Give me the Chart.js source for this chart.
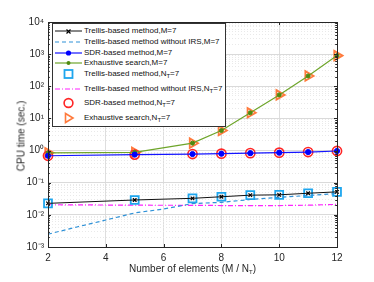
<!DOCTYPE html>
<html><head><meta charset="utf-8">
<script src="https://cdn.jsdelivr.net/npm/chart.js@4/dist/chart.umd.min.js"></script>
<style>
html,body{margin:0;padding:0;background:#fff;}
#wrap{position:relative;width:374px;height:282px;font-family:"Liberation Sans",Arial,sans-serif;color:#262626;overflow:hidden;}
#c{position:absolute;left:0;top:0;}
#legend{position:absolute;left:52px;top:23px;width:172px;height:102px;border:1px solid #333;background:#fff;font-size:8px;color:#111;}
.row{position:absolute;left:0;width:172px;height:12px;line-height:12px;white-space:nowrap;}
.row svg{position:absolute;left:2px;top:0;}
.row span{position:absolute;left:31px;top:0;}
sub{font-size:6px;vertical-align:-2px;line-height:0;}
#xt{position:absolute;left:48px;width:289px;top:263px;text-align:center;font-size:10px;}
#yt{position:absolute;left:21px;top:136px;font-size:10px;white-space:nowrap;transform:translate(-50%,-50%) rotate(-90deg);}
</style></head>
<body>
<div id="wrap">
<canvas id="c" width="374" height="282"></canvas>
<div id="legend"></div>
<div id="xt">Number of elements (M / N<sub>T</sub>)</div>
<div id="yt">CPU time (sec.)</div>
</div>
<script>
// ---- data ----
const xVals = [2, 5, 7, 8, 9, 10, 11, 12];
const xDense = [2, 3, 4, 5, 6, 7, 8, 9, 10, 11, 12];
const trellisM = [0.0228, 0.029, 0.0327, 0.0366, 0.041, 0.042, 0.047, 0.052];
const trellisNoIrsM = [0.0025, 0.0042, 0.0069, 0.0115, 0.0152, 0.0225, 0.0245, 0.030, 0.035, 0.040, 0.046];
const sdrM = [0.69, 0.75, 0.78, 0.80, 0.83, 0.86, 0.90, 0.97];
const exhaustiveM = [0.85, 0.88, 1.7, 4.2, 15, 54, 210, 900];
const trellisNT = [0.0228, 0.029, 0.0327, 0.0366, 0.041, 0.042, 0.047, 0.052];
const trellisNoIrsNT = [0.0207, 0.0200, 0.0198, 0.0195, 0.0193, 0.0195, 0.0200, 0.0212];
const sdrNT = [0.69, 0.75, 0.78, 0.80, 0.83, 0.86, 0.90, 0.97];
const exhaustiveNT = [0.85, 0.88, 1.7, 4.2, 15, 54, 210, 900];
const xTickLabels = ['2', '4', '6', '8', '10', '12'];
const yTickLabels = ['10\u207B\u00B3', '10\u207B\u00B2', '10\u207B\u00B9', '10\u2070', '10\u00B9', '10\u00B2', '10\u00B3', '10\u2074'];
const legendLabels = [
  'Trellis-based method,M=7',
  'Trellis-based method without IRS,M=7',
  'SDR-based method,M=7',
  'Exhaustive search,M=7',
  'Trellis-based method,N<sub>T</sub>=7',
  'Trellis-based method without IRS,N<sub>T</sub>=7',
  'SDR-based method,N<sub>T</sub>=7',
  'Exhaustive search,N<sub>T</sub>=7'
];

const pts = (xs, ys) => xs.map((x, i) => ({x: x, y: ys[i]}));
const C = {black:'#111111', cyan:'#2f92d8', blue:'#1414ff', green:'#6ea52a', sq:'#1ea6ee', mag:'#ff22ff', red:'#ff2626', orange:'#ff7a3c'};

const datasets = [
  {data: pts(xVals, trellisM), borderColor: C.black, borderWidth: 1, pointStyle: 'crossRot', pointRadius: 2.5, pointBorderColor: '#000', pointBorderWidth: 1.2},
  {data: pts(xDense, trellisNoIrsM), borderColor: C.cyan, borderWidth: 1.2, borderDash: [4, 3], pointRadius: 0},
  {data: pts(xVals, sdrM), borderColor: C.blue, borderWidth: 1.2, pointStyle: 'circle', pointRadius: 2.6, pointBackgroundColor: '#0000ff', pointBorderColor: '#0000ff', pointBorderWidth: 1},
  {data: pts(xVals, exhaustiveM), borderColor: C.green, borderWidth: 1.2, pointStyle: 'circle', pointRadius: 2, pointBackgroundColor: '#4f8a10', pointBorderColor: '#4f8a10', pointBorderWidth: 1},
  {data: pts(xVals, trellisNT), showLine: false, pointStyle: 'rect', pointRadius: 5.6, pointBorderColor: C.sq, pointBackgroundColor: 'rgba(0,0,0,0)', pointBorderWidth: 1.8},
  {data: pts(xVals, trellisNoIrsNT), borderColor: C.mag, borderWidth: 1.2, borderDash: [5, 2, 1, 2], pointRadius: 0},
  {data: pts(xVals, sdrNT), showLine: false, pointStyle: 'circle', pointRadius: 4.6, pointBorderColor: C.red, pointBackgroundColor: 'rgba(0,0,0,0)', pointBorderWidth: 1.6},
  {data: pts(xVals, exhaustiveNT), showLine: false, pointStyle: 'triangle', pointRotation: 90, pointRadius: 5.5, pointBorderColor: C.orange, pointBackgroundColor: 'rgba(0,0,0,0)', pointBorderWidth: 1.8}
];
datasets.forEach(d => { d.clip = false; d.tension = 0; d.fill = false; if (d.borderColor === undefined) d.borderColor = 'rgba(0,0,0,0)'; });

const isPow10 = v => Math.abs(Math.log10(v) - Math.round(Math.log10(v))) < 1e-6;

const boxPlugin = {
  id: 'box',
  afterDraw(chart) {
    const {ctx, chartArea: a, scales} = chart;
    ctx.save();
    ctx.strokeStyle = '#262626';
    ctx.lineWidth = 1;
    ctx.beginPath();
    // inward tick marks
    scales.x.ticks.forEach(t => {
      const px = Math.round(scales.x.getPixelForValue(t.value)) + 0.5;
      ctx.moveTo(px, a.bottom); ctx.lineTo(px, a.bottom - 3);
      ctx.moveTo(px, a.top); ctx.lineTo(px, a.top + 3);
    });
    scales.y.ticks.forEach(t => {
      const py = Math.round(scales.y.getPixelForValue(t.value)) + 0.5;
      const len = isPow10(t.value) ? 3 : 1.8;
      ctx.moveTo(a.left, py); ctx.lineTo(a.left + len, py);
      ctx.moveTo(a.right, py); ctx.lineTo(a.right - len, py);
    });
    ctx.stroke();
    ctx.strokeRect(Math.round(a.left) + 0.5, Math.round(a.top) + 0.5, Math.round(a.right - a.left), Math.round(a.bottom - a.top));
    ctx.restore();
  }
};

new Chart(document.getElementById('c'), {
  type: 'line',
  data: {datasets: datasets},
  options: {
    responsive: false, animation: false, devicePixelRatio: 1,
    layout: {padding: {left: 0, right: 37, top: 22, bottom: 0}},
    plugins: {legend: {display: false}, tooltip: {enabled: false}},
    scales: {
      x: {
        type: 'linear', min: 2, max: 12,
        afterFit(s) { s.height = 35; },
        ticks: {stepSize: 2, color: '#262626', font: {family: 'Liberation Sans', size: 10}, padding: 5,
          callback: (v) => { const i = xTickLabels.indexOf(String(v)); return i >= 0 ? xTickLabels[i] : ''; }},
        grid: {color: '#dedede', drawTicks: false, lineWidth: 1},
        border: {color: '#262626', width: 1}
      },
      y: {
        type: 'logarithmic', min: 0.001, max: 10000,
        afterFit(s) { s.width = 48; },
        afterBuildTicks(s) {
          const t = [];
          for (let e = -3; e <= 4; e++) {
            for (let n = 1; n <= 9; n++) {
              if (e === 4 && n > 1) break;
              t.push({value: parseFloat(n + 'e' + e)});
            }
          }
          s.ticks = t;
        },
        ticks: {autoSkip: false, color: '#262626', font: {family: 'Liberation Sans', size: 10}, padding: 4,
          callback: (v) => isPow10(v) ? yTickLabels[Math.round(Math.log10(v)) + 3] : ''},
        grid: {drawTicks: false, lineWidth: 1,
          color: (c) => (c.tick && isPow10(c.tick.value)) ? '#dadada' : '#e9e9e9'},
        border: {color: '#262626', width: 1,
          dash: (c) => (c.tick && !isPow10(c.tick.value)) ? [1, 2] : []}
      }
    }
  },
  plugins: [boxPlugin]
});

// ---- legend (HTML, real text) ----
const swatches = [
  `<line x1="0" y1="6" x2="27" y2="6" stroke="${C.black}" stroke-width="1"/><path d="M11.5 4.5 L15.5 8.5 M15.5 4.5 L11.5 8.5" stroke="#000" stroke-width="1.2"/>`,
  `<line x1="0" y1="6" x2="27" y2="6" stroke="${C.cyan}" stroke-width="1.2" stroke-dasharray="4 3"/>`,
  `<line x1="0" y1="6" x2="27" y2="6" stroke="${C.blue}" stroke-width="1.2"/><circle cx="13.5" cy="6" r="2.6" fill="#0000ff"/>`,
  `<line x1="0" y1="6" x2="27" y2="6" stroke="${C.green}" stroke-width="1.2"/><circle cx="13.5" cy="6" r="2" fill="#4f8a10"/>`,
  `<rect x="9.5" y="2" width="8" height="8" fill="none" stroke="${C.sq}" stroke-width="1.8"/>`,
  `<line x1="0" y1="6" x2="27" y2="6" stroke="${C.mag}" stroke-width="1.2" stroke-dasharray="5 2 1 2"/>`,
  `<circle cx="13.5" cy="6" r="4.4" fill="none" stroke="${C.red}" stroke-width="1.6"/>`,
  `<path d="M10.5 1.5 L18 6 L10.5 10.5 Z" fill="none" stroke="${C.orange}" stroke-width="1.6" stroke-linejoin="miter"/>`
];
const rowCenters = [7, 18, 29, 39, 50, 65, 79, 94];
const lg = document.getElementById('legend');
legendLabels.forEach((lab, i) => {
  const r = document.createElement('div');
  r.className = 'row';
  r.style.top = (rowCenters[i] - 6) + 'px';
  r.innerHTML = `<svg width="28" height="12" viewBox="0 0 28 12">${swatches[i]}</svg><span>${lab}</span>`;
  lg.appendChild(r);
});
</script>
</body></html>
